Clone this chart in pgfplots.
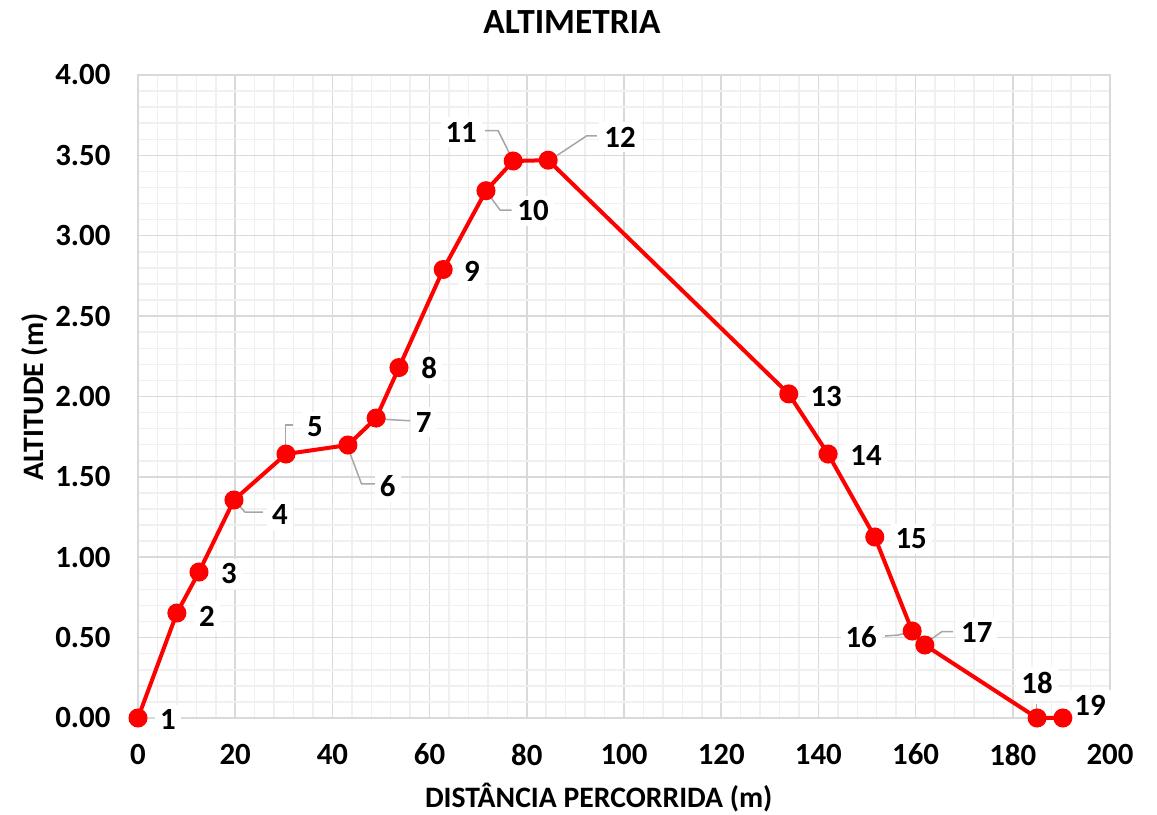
\documentclass[border=0pt]{standalone}
\usepackage{fontspec}
\setmainfont{Carlito}
\usepackage{pgfplots}
\pgfplotsset{compat=1.18}

\definecolor{gridmaj}{RGB}{217,217,217}
\definecolor{gridmin}{RGB}{240,240,240}
\definecolor{leader}{RGB}{166,166,166}
\definecolor{serie}{RGB}{255,0,0}
\newcommand{\lbl}{\fontsize{18.5}{22}\selectfont\bfseries}
\newcommand{\axl}{\fontsize{17.8}{21}\selectfont\bfseries}

\begin{document}
\begin{tikzpicture}
\begin{axis}[
    scale only axis,
    width=583.2pt,
    height=385.8pt,
    xmin=0, xmax=200,
    ymin=0, ymax=4,
    xtick={0,20,...,200},
    ytick={0,0.5,1,1.5,2,2.5,3,3.5,4},
    minor x tick num=4,
    minor y tick num=4,
    grid=both,
    major grid style={draw=gridmaj, line width=0.9pt},
    minor grid style={draw=gridmin, line width=0.9pt},
    major tick length=0pt,
    minor tick length=0pt,
    axis line style={draw=gridmaj, line width=1pt},
    clip=false,
    ticklabel style={font=\lbl},
    /pgf/number format/assume math mode=true,
    yticklabel style={/pgf/number format/fixed, /pgf/number format/fixed zerofill, /pgf/number format/precision=2, xshift=-13pt},
    xticklabel style={yshift=-12pt},
    every axis title shift=0pt,
    title={ALTIMETRIA},
    title style={font=\fontsize{21.2}{25}\selectfont\bfseries, at={(axis description cs:0.4465,1.082)}, anchor=center},
    xlabel={DISTÂNCIA PERCORRIDA (m)},
    xlabel style={font=\axl, at={(axis description cs:0.474,-0.124)}, anchor=center},
    ylabel={ALTITUDE (m)},
    ylabel style={font=\axl, at={(axis description cs:-0.106,0.499)}, anchor=center},
]
% linhas de chamada
\draw[leader, line width=0.9pt] (axis cs:20.2,1.344) -- (axis cs:22.0,1.281) -- (axis cs:25.7,1.281);
\draw[leader, line width=0.9pt] (axis cs:30.4,1.657) -- (axis cs:30.4,1.823) -- (axis cs:31.9,1.823);
\draw[leader, line width=0.9pt] (axis cs:43.2,1.680) -- (axis cs:46.0,1.456) -- (axis cs:49.1,1.456);
\draw[leader, line width=0.9pt] (axis cs:49.4,1.860) -- (axis cs:56.0,1.849);
\draw[leader, line width=0.9pt] (axis cs:71.7,3.274) -- (axis cs:74.5,3.160) -- (axis cs:76.9,3.160);
\draw[leader, line width=0.9pt] (axis cs:76.9,3.484) -- (axis cs:74.1,3.654) -- (axis cs:71.4,3.654);
\draw[leader, line width=0.9pt] (axis cs:84.8,3.471) -- (axis cs:92.3,3.621) -- (axis cs:94.4,3.621);
\draw[leader, line width=0.9pt] (axis cs:159.2,0.537) -- (axis cs:156.4,0.516) -- (axis cs:153.7,0.510);
\draw[leader, line width=0.9pt] (axis cs:162.1,0.467) -- (axis cs:165.4,0.537) -- (axis cs:167.7,0.537);
\draw[leader, line width=0.9pt] (axis cs:184.9,0) -- (axis cs:184.9,0.087);

\addplot[serie, line width=2.4pt, mark=*, mark size=4.5pt, mark options={fill=serie, draw=serie}] coordinates {
    (0,0) (8.0,0.653) (12.55,0.908) (19.75,1.356) (30.45,1.642)
    (43.2,1.698) (49.0,1.866) (53.7,2.18) (62.8,2.79) (71.6,3.28)
    (77.2,3.465) (84.4,3.47) (133.9,2.016) (142.0,1.642) (151.6,1.126)
    (159.3,0.541) (161.9,0.454) (185.0,0) (190.3,0)
};

% rotulos dos pontos
\tikzset{rot/.style={fill=white, inner sep=3pt, font=\lbl}}
\node[rot] at (axis cs:6.17,-0.012) {1};
\node[rot] at (axis cs:14.2,0.635) {2};
\node[rot] at (axis cs:18.7,0.896) {3};
\node[rot] at (axis cs:29.2,1.263) {4};
\node[rot] at (axis cs:36.4,1.810) {5};
\node[rot] at (axis cs:51.4,1.443) {6};
\node[rot] at (axis cs:58.8,1.841) {7};
\node[rot] at (axis cs:59.9,2.177) {8};
\node[rot] at (axis cs:68.7,2.781) {9};
\node[rot] at (axis cs:81.3,3.154) {10};
\node[rot] at (axis cs:66.5,3.645) {11};
\node[rot] at (axis cs:99.2,3.614) {12};
\node[rot] at (axis cs:141.6,2.003) {13};
\node[rot] at (axis cs:149.8,1.630) {14};
\node[rot] at (axis cs:159.1,1.114) {15};
\node[rot] at (axis cs:148.8,0.504) {16};
\node[rot] at (axis cs:172.6,0.529) {17};
\node[rot] at (axis cs:185.0,0.218) {18};
\node[rot] at (axis cs:195.9,0.081) {19};
\end{axis}
\pgfresetboundingbox
\path ([shift={(-82.8pt,-58.2pt)}]current axis.south west) rectangle ([shift={(28.2pt,45pt)}]current axis.north east);
\end{tikzpicture}
\end{document}
